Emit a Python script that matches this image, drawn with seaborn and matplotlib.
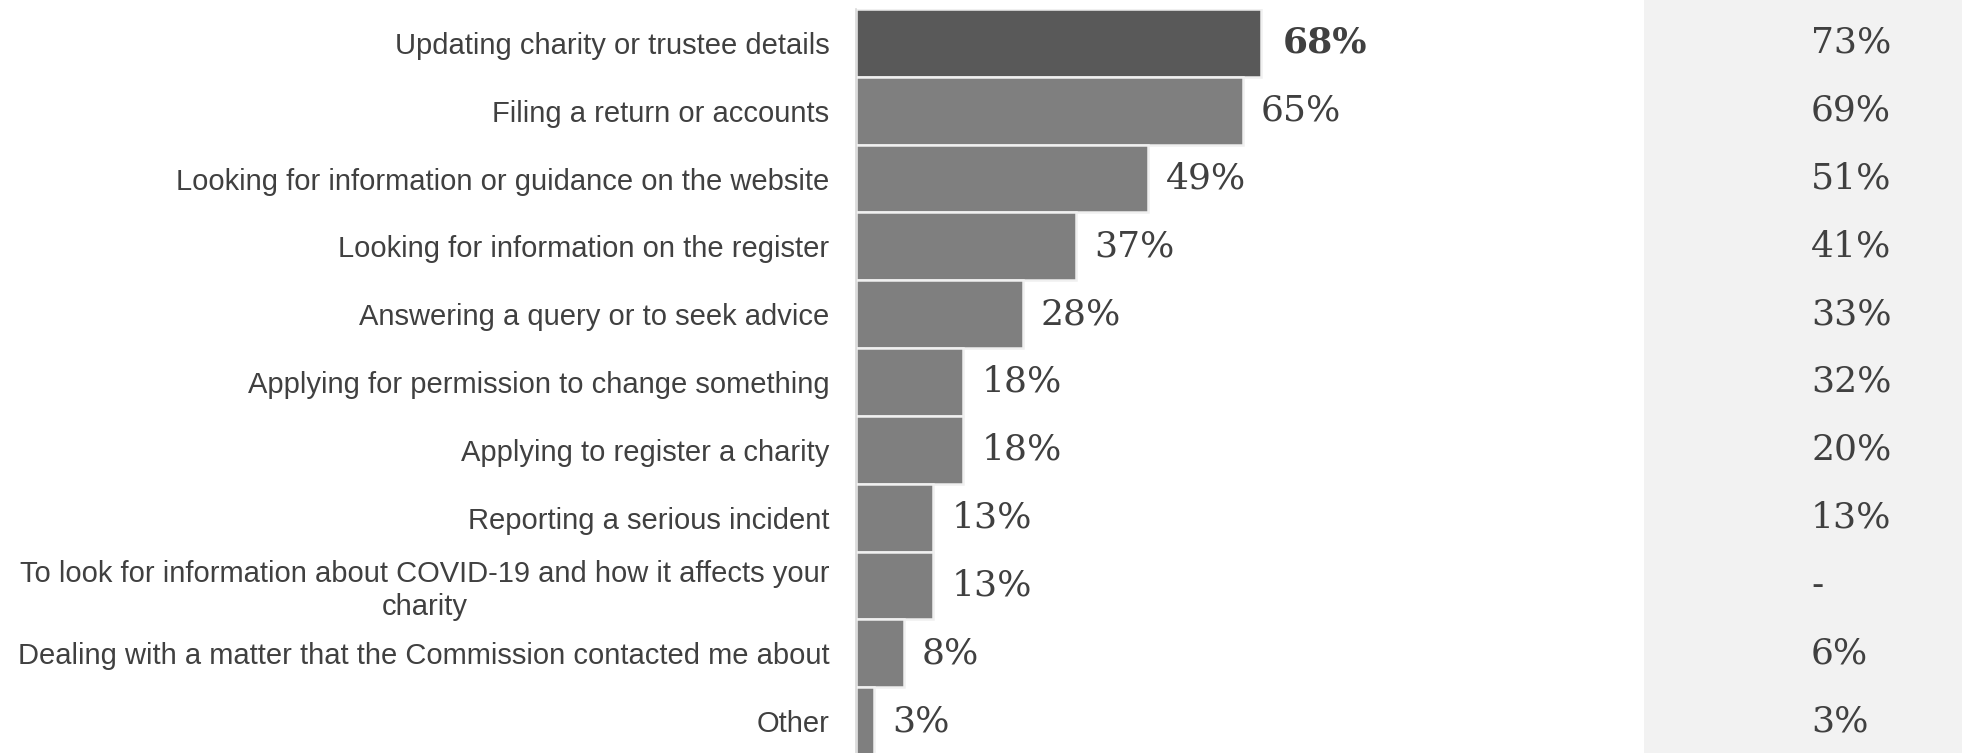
import matplotlib
matplotlib.use("Agg")
import matplotlib.pyplot as plt
import matplotlib.transforms as mtransforms
from matplotlib.patches import Rectangle
import seaborn as sns
import pandas as pd

# Survey reasons for contacting the Commission
categories = [
    "Updating charity or trustee details",
    "Filing a return or accounts",
    "Looking for information or guidance on the website",
    "Looking for information on the register",
    "Answering a query or to seek advice",
    "Applying for permission to change something",
    "Applying to register a charity",
    "Reporting a serious incident",
    "To look for information about COVID-19 and how it affects your\ncharity",
    "Dealing with a matter that the Commission contacted me about",
    "Other",
]
current_pct = [68, 65, 49, 37, 28, 18, 18, 13, 13, 8, 3]
previous_pct = [73, 69, 51, 41, 33, 32, 20, 13, None, 6, 3]

TEXT = "#404040"
HIGHLIGHT = "#595959"
BASE = "#7f7f7f"
PANEL = "#f2f2f2"

df = pd.DataFrame({"reason": categories, "pct": current_pct})
palette = [HIGHLIGHT] + [BASE] * (len(categories) - 1)

sns.set_theme(style="white")
plt.rcParams["font.family"] = ["Liberation Sans", "DejaVu Sans"]

W, H, DPI = 1962, 753, 100
fig = plt.figure(figsize=(W / DPI, H / DPI), dpi=DPI)

# light panel holding the comparison column
fig.add_artist(Rectangle((1644 / W, 0), 1 - 1644 / W, 1,
                         transform=fig.transFigure, facecolor=PANEL,
                         edgecolor="none", zorder=0))

ax_left, ax_right = 856 / W, 1644 / W
ax_top, ax_bottom = 1 - 9 / H, -2 / H
ax = fig.add_axes([ax_left, ax_bottom, ax_right - ax_left, ax_top - ax_bottom])
ax.set_facecolor("none")

sns.barplot(data=df, x="pct", y="reason", hue="reason", palette=palette,
            legend=False, width=1.0, edgecolor="#f0f0f0", linewidth=1.8,
            saturation=1, ax=ax)

px_per_pct = 5.95
ax.set_xlim(0, (1644 - 856) / px_per_pct)
ax.set_ylim(len(categories) - 0.5, -0.5)

# value labels at bar ends
for i, cont in enumerate(ax.containers):
    texts = ax.bar_label(cont, labels=[f"{current_pct[i]}%"],
                         padding=16 if i == 0 else 13,
                         fontsize=26, color=TEXT, family="DejaVu Serif",
                         fontweight="bold" if i == 0 else "normal")

# comparison column in the panel
trans = mtransforms.blended_transform_factory(fig.transFigure, ax.transData)
for i, v in enumerate(previous_pct):
    label = "-" if v is None else f"{v}%"
    ax.text(1811 / W, i, label, transform=trans, ha="left", va="center",
            fontsize=26, color=TEXT, family="DejaVu Serif", clip_on=False)

ax.set_xlabel("")
ax.set_ylabel("")
ax.set_xticks([])
ax.tick_params(axis="y", length=0, pad=19, labelsize=21, labelcolor=TEXT)
for lbl in ax.get_yticklabels():
    lbl.set_multialignment("center")

for side in ["top", "right", "bottom"]:
    ax.spines[side].set_visible(False)
ax.spines["left"].set_color("#d9d9d9")
ax.spines["left"].set_linewidth(1.2)

fig.savefig("out.png", dpi=DPI)
